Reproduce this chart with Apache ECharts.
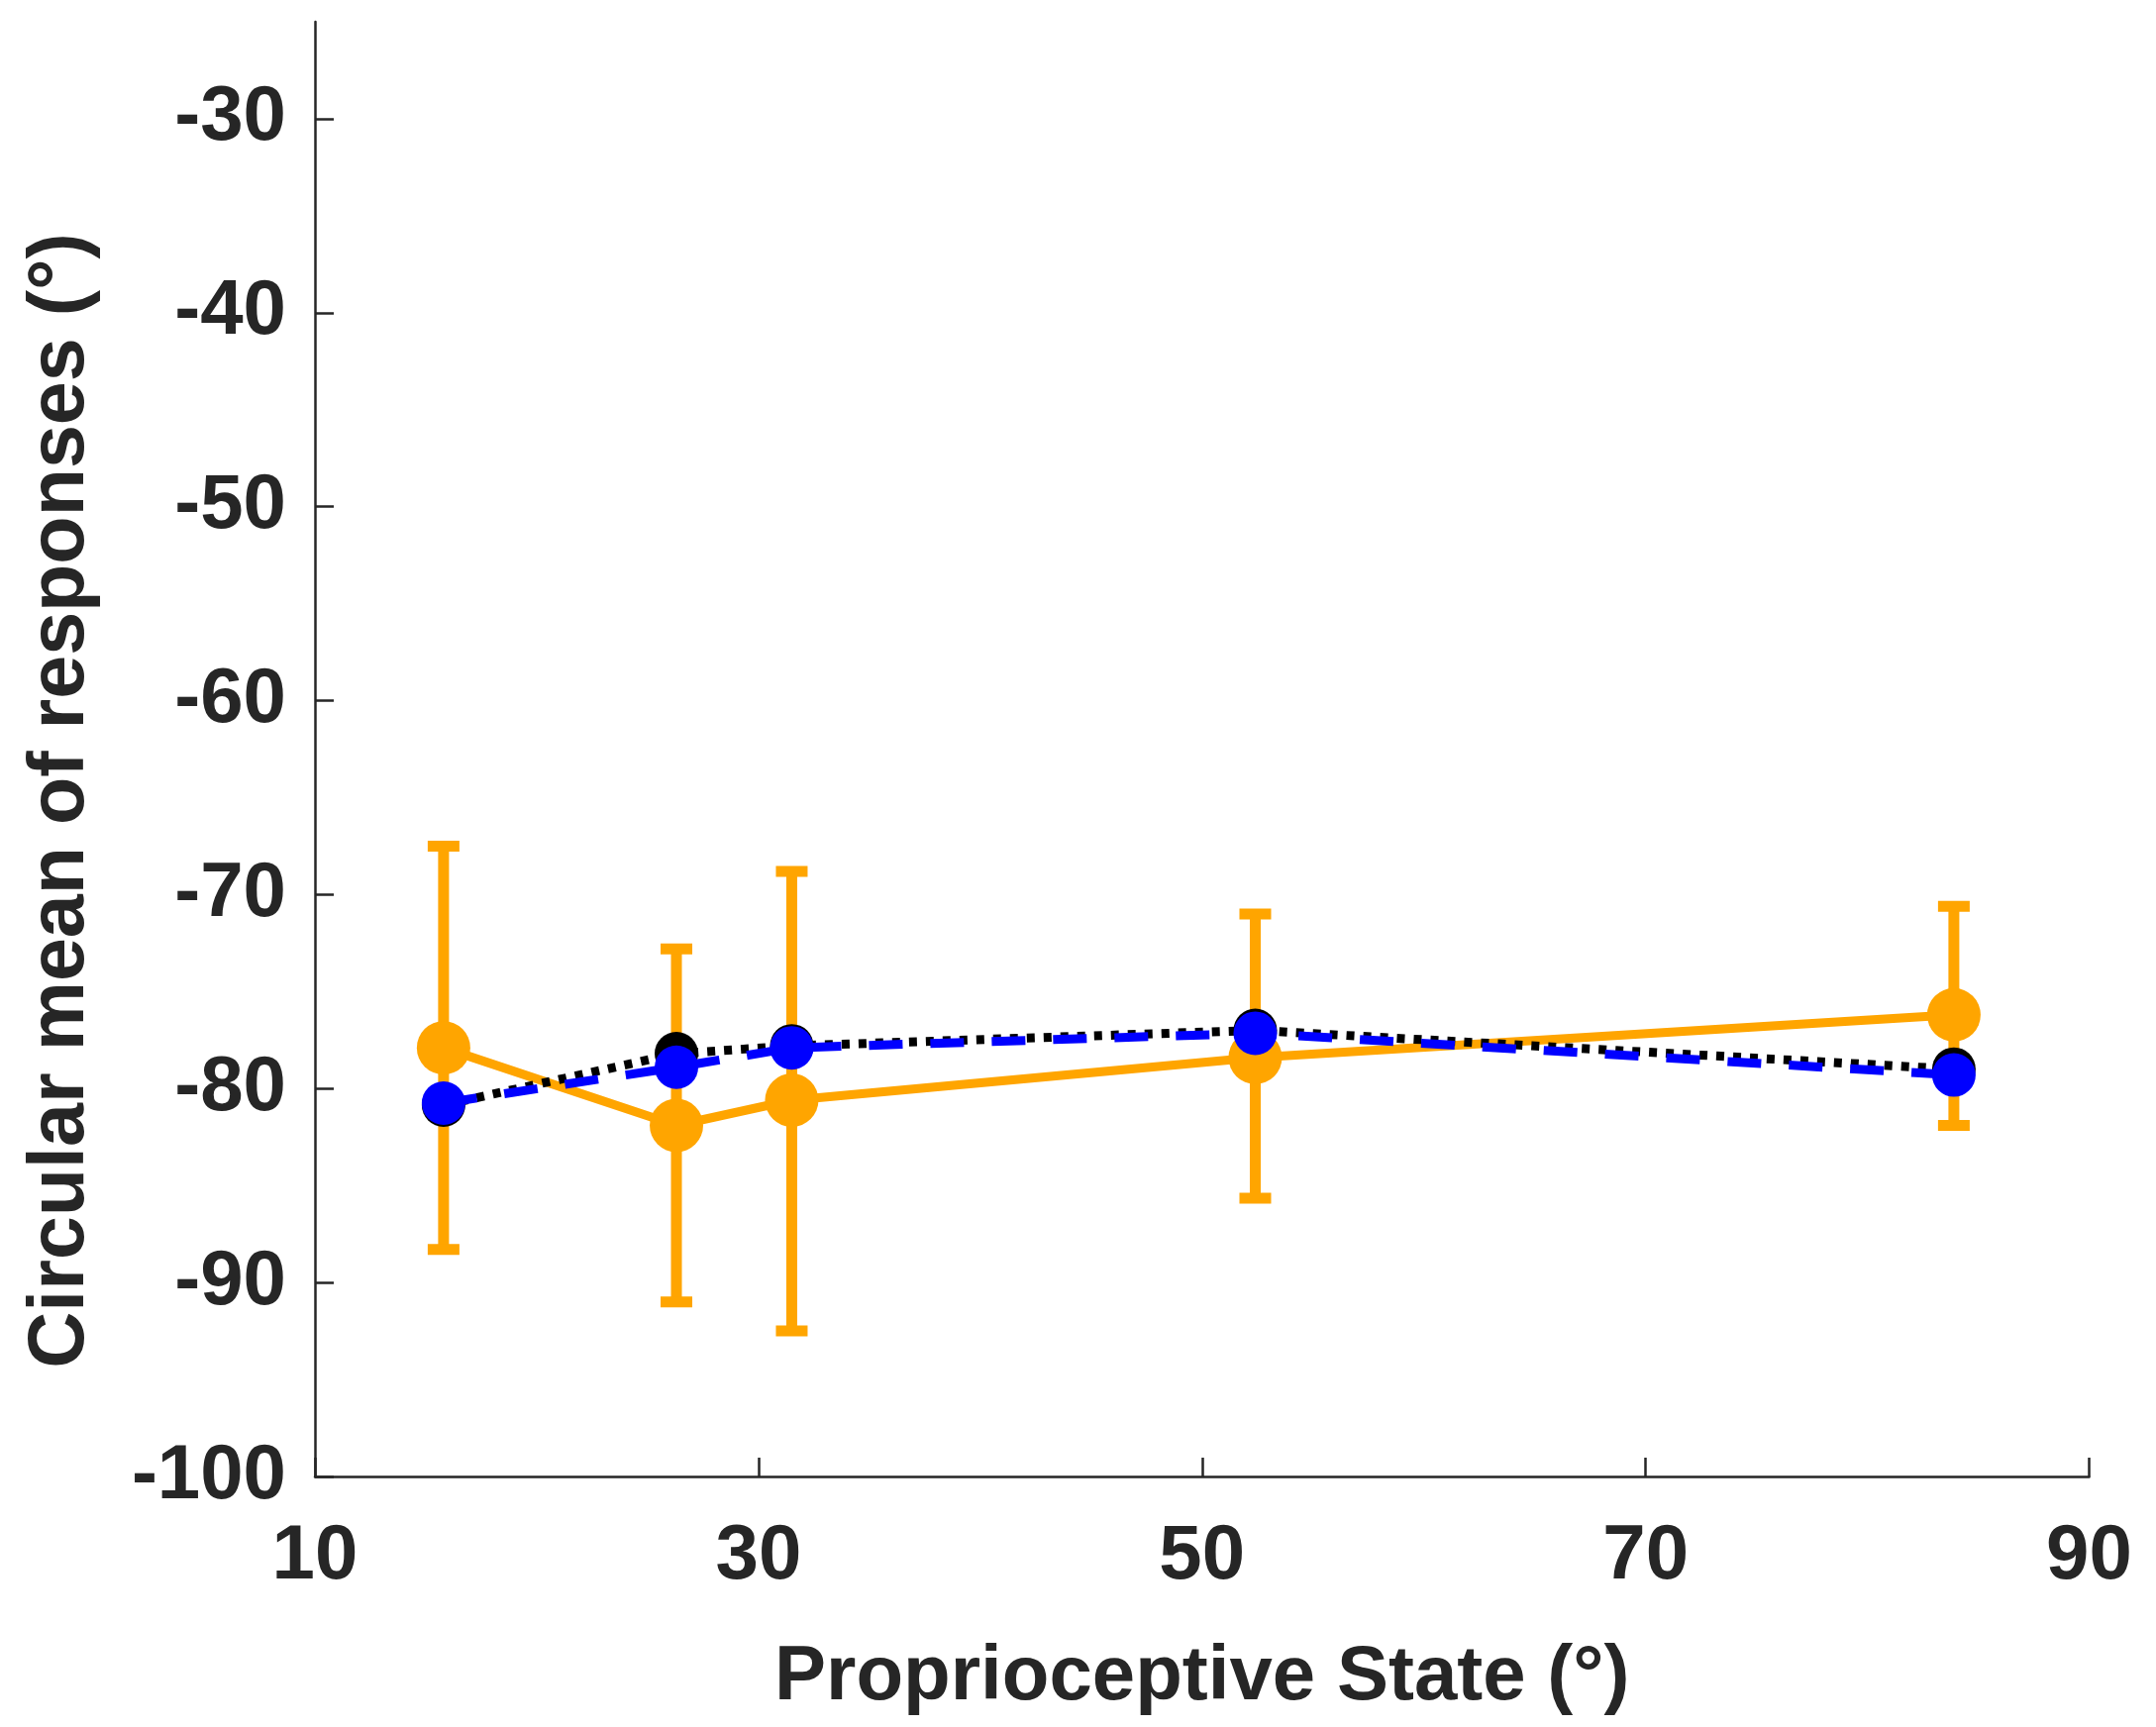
<!DOCTYPE html>
<html>
<head>
<meta charset="utf-8">
<script src="https://cdn.jsdelivr.net/npm/echarts@6/dist/echarts.min.js"></script>
<style>
html,body{margin:0;padding:0;background:#fff;}
#chart{width:2177px;height:1744px;}
</style>
</head>
<body>
<div id="chart"></div>
<script>
// Proprioceptive state (x) for each condition
var xStates = [15.8, 26.3, 31.5, 52.4, 83.9];
// Orange series: circular mean with error bar limits
var orangeMean  = [-77.9, -81.9, -80.6, -78.4, -76.2];
var orangeUpper = [-67.5, -72.8, -68.8, -71.0, -70.6];
var orangeLower = [-88.3, -91.0, -92.5, -85.65, -81.9];
// Black dotted series
var blackMean = [-80.85, -78.2, -77.8, -77.0, -79.0];
// Blue dashed series
var blueMean  = [-80.75, -78.9, -77.9, -77.15, -79.3];
// Tick labels
var xTicks = [10, 30, 50, 70, 90];
var yTicks = [-100, -90, -80, -70, -60, -50, -40, -30];

var FONT = "'Liberation Sans', Arial, Helvetica, sans-serif";
var TXT = '#262626';
var ORANGE = '#FFA500';

function pairs(xs, ys){ return xs.map(function(x,i){ return [x, ys[i]]; }); }

var chart = echarts.init(document.getElementById('chart'), null, {renderer:'canvas'});
chart.setOption({
  animation: false,
  backgroundColor: '#ffffff',
  grid: {left: 318, right: 67.5, top: 22, bottom: 253, containLabel: false},
  xAxis: {
    type: 'value', min: 10, max: 90, interval: 20,
    name: 'Proprioceptive State (°)', nameLocation: 'middle', nameGap: 164,
    nameTextStyle: {fontFamily: FONT, fontWeight: 'bold', fontSize: 78, color: TXT},
    axisLine: {show: true, onZero: false, lineStyle: {color: TXT, width: 2.5}},
    axisTick: {show: true, inside: true, length: 19, customValues: xTicks, lineStyle: {color: TXT, width: 2.5}},
    axisLabel: {customValues: xTicks, margin: 42, fontFamily: FONT, fontWeight: 'bold', fontSize: 78, color: TXT},
    splitLine: {show: false}
  },
  yAxis: {
    type: 'value', min: -100, max: -25, interval: 10,
    name: 'Circular mean of responses (°)', nameLocation: 'middle', nameGap: 216,
    nameTextStyle: {fontFamily: FONT, fontWeight: 'bold', fontSize: 79, color: TXT, padding: [0, 104, 0, 0]},
    axisLine: {show: true, onZero: false, lineStyle: {color: TXT, width: 2.5}},
    axisTick: {show: true, inside: true, length: 19, customValues: yTicks, lineStyle: {color: TXT, width: 2.5}},
    axisLabel: {customValues: yTicks, margin: 29, fontFamily: FONT, fontWeight: 'bold', fontSize: 78, color: TXT},
    splitLine: {show: false}
  },
  series: [
    {
      type: 'custom',
      name: 'Orange error',
      z: 1,
      encode: {x: 0, y: [1, 2]},
      data: xStates.map(function(x, i){ return [x, orangeLower[i], orangeUpper[i]]; }),
      renderItem: function(params, api){
        var x = api.value(0);
        var bot = api.coord([x, api.value(1)]);
        var top = api.coord([x, api.value(2)]);
        var hw = 16;
        return {
          type: 'group',
          children: [
            {type: 'line', shape: {x1: top[0], y1: top[1], x2: bot[0], y2: bot[1]}, style: {stroke: ORANGE, lineWidth: 11}},
            {type: 'line', shape: {x1: top[0]-hw, y1: top[1], x2: top[0]+hw, y2: top[1]}, style: {stroke: ORANGE, lineWidth: 11}},
            {type: 'line', shape: {x1: bot[0]-hw, y1: bot[1], x2: bot[0]+hw, y2: bot[1]}, style: {stroke: ORANGE, lineWidth: 11}}
          ]
        };
      }
    },
    {
      type: 'line', name: 'Orange', z: 2,
      data: pairs(xStates, orangeMean),
      symbol: 'circle', symbolSize: 54,
      itemStyle: {color: ORANGE},
      lineStyle: {color: ORANGE, width: 9}
    },
    {
      type: 'line', name: 'Black', z: 3,
      data: pairs(xStates, blackMean),
      symbol: 'circle', symbolSize: 44,
      itemStyle: {color: '#000000'},
      lineStyle: {color: '#000000', width: 9, type: [8, 9], cap: 'butt'}
    },
    {
      type: 'line', name: 'Blue', z: 4,
      data: pairs(xStates, blueMean),
      symbol: 'circle', symbolSize: 44,
      itemStyle: {color: '#0000FF'},
      lineStyle: {color: '#0000FF', width: 9, type: [34, 28], cap: 'butt'}
    }
  ]
});
</script>
</body>
</html>
